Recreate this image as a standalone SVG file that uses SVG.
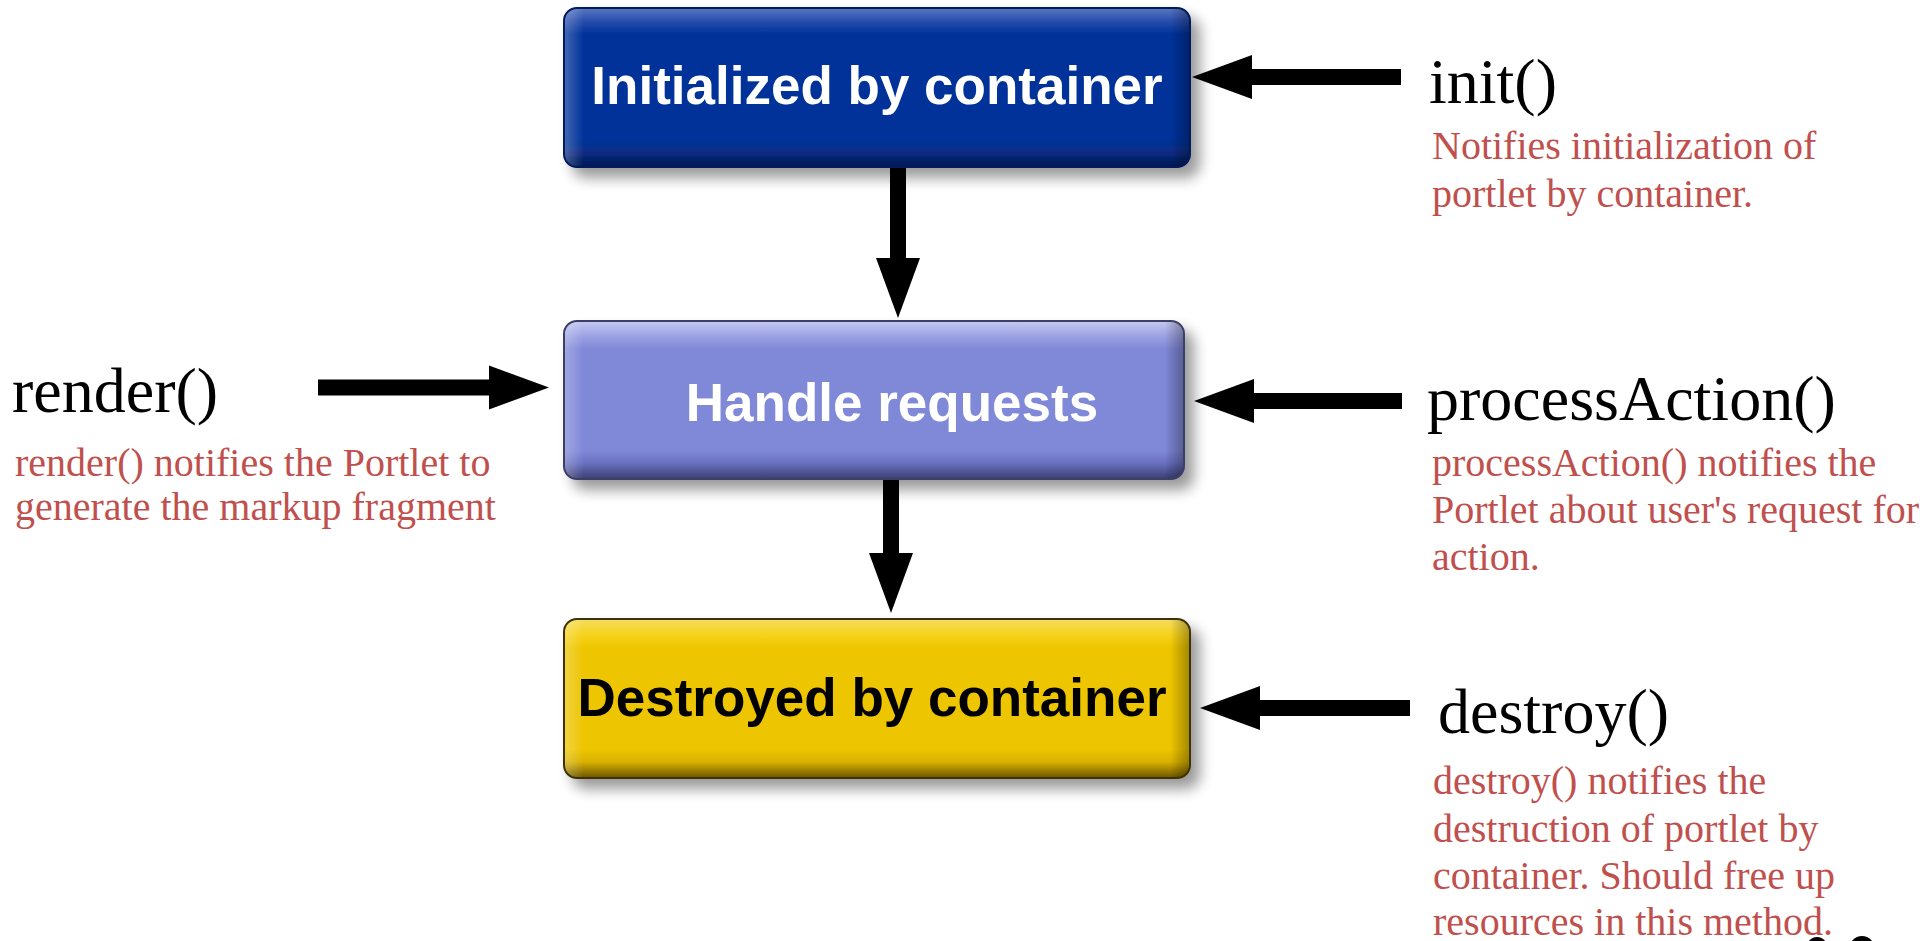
<svg xmlns="http://www.w3.org/2000/svg" width="1920" height="941" viewBox="0 0 1920 941">
<defs>
<style>
.boxtxt{font-family:"Liberation Sans",Arial,sans-serif;font-weight:bold;font-size:53px}
.meth{font-family:"Liberation Serif","Times New Roman",serif;font-size:64px;fill:#000}
.desc{font-family:"Liberation Serif","Times New Roman",serif;font-size:40px;fill:#c0504d}
.conn{stroke:#000;stroke-width:16;fill:none;marker-end:url(#head)}
</style>
<marker id="head" viewBox="0 0 60 44" refX="0" refY="22" markerUnits="strokeWidth" markerWidth="3.75" markerHeight="2.75" orient="auto" overflow="visible">
<path d="M0,0 L60,22 L0,44 Z" fill="#000"/>
</marker>
<filter id="shadow" x="-10%" y="-20%" width="125%" height="150%">
<feGaussianBlur in="SourceAlpha" stdDeviation="7"/>
<feOffset dx="9" dy="10" result="b"/>
<feComponentTransfer><feFuncA type="linear" slope="0.4"/></feComponentTransfer>
<feMerge><feMergeNode/><feMergeNode in="SourceGraphic"/></feMerge>
</filter>
<linearGradient id="gBlue" x1="0" y1="0" x2="0" y2="1">
<stop offset="0" stop-color="#5a78c0"/>
<stop offset="0.08" stop-color="#2a4fae"/>
<stop offset="0.16" stop-color="#00339a"/>
<stop offset="0.82" stop-color="#00339a"/>
<stop offset="0.9" stop-color="#0a2e88"/>
<stop offset="1" stop-color="#001650"/>
</linearGradient>
<linearGradient id="gPurple" x1="0" y1="0" x2="0" y2="1">
<stop offset="0" stop-color="#c4c8f0"/>
<stop offset="0.1" stop-color="#9aa0e2"/>
<stop offset="0.18" stop-color="#8088d8"/>
<stop offset="0.82" stop-color="#8088d8"/>
<stop offset="0.9" stop-color="#6a70c0"/>
<stop offset="1" stop-color="#3a3e70"/>
</linearGradient>
<linearGradient id="gYellow" x1="0" y1="0" x2="0" y2="1">
<stop offset="0" stop-color="#f4dc60"/>
<stop offset="0.1" stop-color="#f6d21a"/>
<stop offset="0.18" stop-color="#edc500"/>
<stop offset="0.82" stop-color="#edc500"/>
<stop offset="0.9" stop-color="#d8b000"/>
<stop offset="1" stop-color="#6a5400"/>
</linearGradient>
<linearGradient id="gSide" x1="0" y1="0" x2="1" y2="0">
<stop offset="0" stop-color="#fff" stop-opacity="0.25"/>
<stop offset="0.03" stop-color="#fff" stop-opacity="0"/>
<stop offset="0.97" stop-color="#000" stop-opacity="0"/>
<stop offset="1" stop-color="#000" stop-opacity="0.3"/>
</linearGradient>
</defs>
<rect width="1920" height="941" fill="#fff"/>

<g id="connectors">
<line class="conn" x1="1401" y1="77" x2="1252" y2="77"/>
<line class="conn" x1="898" y1="167" x2="898" y2="258"/>
<line class="conn" x1="318" y1="387.5" x2="489" y2="387.5"/>
<line class="conn" x1="1402" y1="401" x2="1254" y2="401"/>
<line class="conn" x1="891" y1="478" x2="891" y2="553"/>
<line class="conn" x1="1410" y1="708" x2="1260" y2="708"/>
</g>

<g id="node-init-box">
<rect x="564" y="8" width="626" height="159" rx="13" fill="url(#gBlue)" stroke="#001a5c" stroke-width="2" filter="url(#shadow)"/>
<rect x="565" y="9" width="624" height="157" rx="12" fill="url(#gSide)"/>
<text class="boxtxt" x="877" y="104" text-anchor="middle" fill="#fff">Initialized by container</text>
</g>

<g id="node-handle-box">
<rect x="564" y="321" width="620" height="158" rx="13" fill="url(#gPurple)" stroke="#3c3f66" stroke-width="2" filter="url(#shadow)"/>
<rect x="565" y="322" width="618" height="156" rx="12" fill="url(#gSide)"/>
<text class="boxtxt" x="892" y="421" text-anchor="middle" fill="#fff">Handle requests</text>
</g>

<g id="node-destroy-box">
<rect x="564" y="619" width="626" height="159" rx="13" fill="url(#gYellow)" stroke="#3e3200" stroke-width="2" filter="url(#shadow)"/>
<rect x="565" y="620" width="624" height="157" rx="12" fill="url(#gSide)"/>
<text class="boxtxt" x="872" y="716" text-anchor="middle" fill="#000">Destroyed by container</text>
</g>

<g id="node-init">
<text class="meth" x="1429" y="103">init()</text>
<text class="desc" x="1432" y="159">Notifies initialization of</text>
<text class="desc" x="1432" y="207">portlet by container.</text>
</g>

<g id="node-render">
<text class="meth" x="12" y="412">render()</text>
<text class="desc" x="15" y="476">render() notifies the Portlet to</text>
<text class="desc" x="15" y="520">generate the markup fragment</text>
</g>

<g id="node-processAction">
<text class="meth" x="1427" y="420">processAction()</text>
<text class="desc" x="1432" y="476">processAction() notifies the</text>
<text class="desc" x="1432" y="523">Portlet about user's request for</text>
<text class="desc" x="1432" y="570">action.</text>
</g>

<g id="node-destroy">
<text class="meth" x="1438" y="733">destroy()</text>
<text class="desc" x="1433" y="794">destroy() notifies the</text>
<text class="desc" x="1433" y="842">destruction of portlet by</text>
<text class="desc" x="1433" y="889">container. Should free up</text>
<text class="desc" x="1433" y="935">resources in this method.</text>
</g>

<g id="cropped-marks">
<ellipse cx="1817" cy="952" rx="12" ry="15" fill="#000"/>
<ellipse cx="1862" cy="950" rx="13" ry="14" fill="#000"/>
</g>
</svg>
